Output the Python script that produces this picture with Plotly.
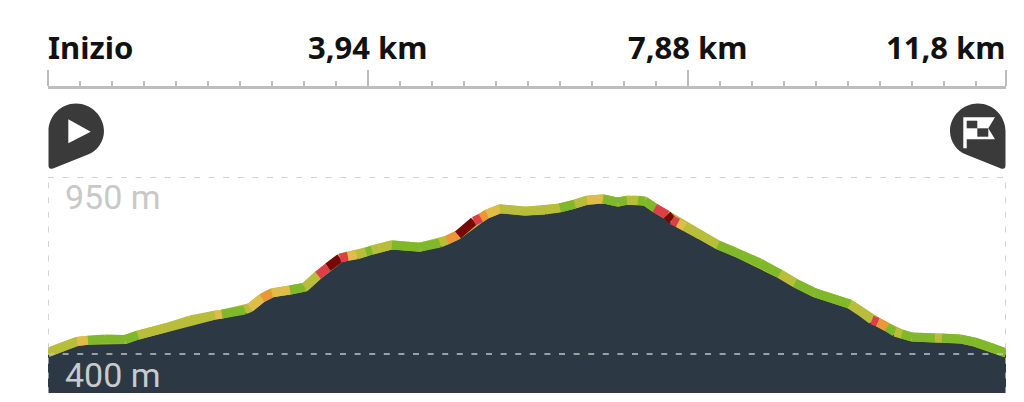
import plotly.graph_objects as go

# Distance along the route (km) and elevation (m)
distance_km = [0, 0.172, 0.357, 0.493, 0.702, 0.948, 1.109, 1.441, 1.749, 2.057, 2.143, 2.426, 2.488, 2.636,
               2.759, 2.981, 3.165, 3.326, 3.449, 3.597, 3.695, 3.806, 3.917, 3.991, 4.237, 4.582, 4.828,
               4.914, 5.050, 5.247, 5.333, 5.407, 5.567, 5.875, 6.122, 6.306, 6.491, 6.639, 6.836, 7.021,
               7.131, 7.267, 7.353, 7.476, 7.624, 7.686, 7.760, 7.846, 8.031, 8.252, 8.462, 8.770, 9.016,
               9.201, 9.447, 9.878, 10.001, 10.149, 10.223, 10.334, 10.432, 10.518, 10.642, 10.925, 11.011,
               11.233, 11.418, 11.603, 11.8]
elevation_m = [405, 422, 439, 443, 447, 445, 459, 481, 506, 521, 524, 537, 544, 574,
               590, 599, 608, 645, 670, 698, 704, 708, 717, 723, 739, 732, 745,
               754, 770, 813, 823, 835, 851, 844, 847, 854, 866, 878, 882, 872,
               878, 878, 875, 854, 832, 816, 807, 795, 770, 739, 717, 683, 649,
               621, 590, 555, 534, 506, 499, 484, 468, 462, 453, 450, 450,
               447, 437, 422, 403]
# Slope class of the stretch that starts at each point (the last point starts nothing)
slope_class = list("YYOGGGYYYOGYOAOGYRDROYGYGGYADRAOYYYGYOGGYGGRDROYYGGGYGGYYRAGYGGYGGGG") + ["G"]

slope_colors = {"G": "#7fb92a", "Y": "#b8bd3a", "O": "#e0bc48", "A": "#ec9638", "R": "#dd3f48", "D": "#780808"}

major_ticks = [0, 3.94, 7.88, 11.8]
major_labels = ["Inizio", "3,94 km", "7,88 km", "11,8 km"]
minor_ticks = [0.394, 0.788, 1.182, 1.576, 1.97, 2.364, 2.758, 3.152, 3.546,
               4.334, 4.728, 5.122, 5.516, 5.91, 6.304, 6.698, 7.092, 7.486,
               8.274, 8.668, 9.062, 9.456, 9.85, 10.244, 10.638, 11.032, 11.426]
elev_ticks = [950, 400]
elev_labels = ["950 m", "400 m"]

W, H = 1024, 402
AREA = "#2d3845"
GREY = "#bdbdbd"
DASH = "#c0c2c6"
PIN = "#3a3a3a"
BAND = 9


def px(x):
    return x / W


def py(y):
    return 1 - y / H


def path(cmds):
    """Build a paper-referenced SVG path from commands given in page pixels."""
    out = []
    for cmd, *pts in cmds:
        out.append(cmd + " ".join(f"{px(pts[i]):.5f},{py(pts[i + 1]):.5f}" for i in range(0, len(pts), 2)))
    return " ".join(out)


fig = go.Figure()

fig.add_trace(go.Scatter(x=distance_km, y=elevation_m, mode="lines", fill="tozeroy",
                         fillcolor=AREA, line=dict(width=0, color=AREA), hoverinfo="skip", showlegend=False))

# The coloured band lives on an overlaid y axis so that it is painted over the filled area
fig.add_trace(go.Scatter(x=distance_km, y=elevation_m, yaxis="y2", mode="lines",
                         line=dict(width=BAND, color=slope_colors["Y"]), hoverinfo="skip", showlegend=False))
for i in range(len(distance_km) - 1):
    fig.add_trace(go.Scatter(x=distance_km[i:i + 2], y=elevation_m[i:i + 2], yaxis="y2", mode="lines",
                             line=dict(width=BAND, color=slope_colors[slope_class[i]]),
                             hoverinfo="skip", showlegend=False))

# Carrier for the ruler axis at the top
fig.add_trace(go.Scatter(x=major_ticks, y=[elev_ticks[1]] * 4, xaxis="x2", mode="none",
                         hoverinfo="skip", showlegend=False))

shapes = []
dash_line = dict(color=DASH, width=1.4, dash="6px,8.6px")
for v in elev_ticks:
    shapes.append(dict(type="line", xref="x", yref="y", x0=major_ticks[0], x1=major_ticks[-1], y0=v, y1=v,
                       line=dash_line, layer="above"))
for k in (major_ticks[0], major_ticks[-1]):
    shapes.append(dict(type="line", xref="x", yref="y domain", x0=k, x1=k, y0=0, y1=1, line=dash_line, layer="above"))

# Start pin
shapes.append(dict(type="path", xref="paper", yref="paper", fillcolor=PIN, line=dict(width=0), path=path([
    ("M", 48.5, 131), ("C", 48.5, 116, 61, 103.5, 76, 103.5), ("C", 91, 103.5, 104, 116, 104, 131),
    ("C", 104, 142, 97, 151, 88, 154.5), ("L", 53, 168.5), ("Q", 48.5, 170, 48.5, 165), ("Z",)])))
shapes.append(dict(type="path", xref="paper", yref="paper", fillcolor="white", line=dict(width=0), path=path([
    ("M", 68.3, 119.3), ("L", 90.7, 131.7), ("L", 68.3, 143.3), ("Z",)])))
# Finish pin
shapes.append(dict(type="path", xref="paper", yref="paper", fillcolor=PIN, line=dict(width=0), path=path([
    ("M", 1005.5, 131), ("C", 1005.5, 116, 993, 103.5, 978, 103.5), ("C", 963, 103.5, 950, 116, 950, 131),
    ("C", 950, 142, 957, 151, 966, 154.5), ("L", 1001, 168.5), ("Q", 1005.5, 170, 1005.5, 165), ("Z",)])))
shapes.append(dict(type="path", xref="paper", yref="paper", fillcolor="white", line=dict(width=0), path=path([
    ("M", 963.3, 117.3), ("L", 995, 117.3), ("L", 988.3, 128.3), ("L", 995, 139.3), ("L", 966.7, 139.3),
    ("L", 966.7, 148.3), ("L", 963.3, 148.3), ("Z",)])))
for a, b, c, d in ((966.7, 120.7, 977.3, 128.3), (977.3, 128.3, 988.3, 136.7)):
    shapes.append(dict(type="path", xref="paper", yref="paper", fillcolor=PIN, line=dict(width=0), path=path([
        ("M", a, b), ("L", c, b), ("L", c, d), ("L", a, d), ("Z",)])))

annotations = []
anchors = ["left", "center", "center", "right"]
shifts = [-2, 0, 0, 2]
for k, label, anchor, shift in zip(major_ticks, major_labels, anchors, shifts):
    annotations.append(dict(x=k, xref="x", y=py(46.5), yref="paper", text=f"<b>{label}</b>", showarrow=False,
                            xanchor=anchor, yanchor="middle", xshift=shift,
                            font=dict(family="Noto Sans", size=31, color="#111111")))
annotations.append(dict(x=px(63), xref="paper", y=elev_ticks[0], yref="y", yshift=-20, text=elev_labels[0],
                        showarrow=False, xanchor="left", yanchor="middle",
                        font=dict(family="Roboto", size=34, color="#c8c8c8")))
annotations.append(dict(x=px(63), xref="paper", y=elev_ticks[1], yref="y", yshift=-21, text=elev_labels[1],
                        showarrow=False, xanchor="left", yanchor="middle",
                        font=dict(family="Roboto", size=34, color="#c8cbce")))

x_range = [major_ticks[0], major_ticks[-1]]
x_domain = [px(48), px(1006)]
y_domain = [py(393), py(177)]
y_range = [279, 950]
fig.update_layout(
    width=W, height=H, margin=dict(l=0, r=0, t=0, b=0), paper_bgcolor="white", plot_bgcolor="white",
    showlegend=False, shapes=shapes, annotations=annotations,
    xaxis=dict(domain=x_domain, range=x_range, showgrid=False, zeroline=False, showticklabels=False, ticks=""),
    xaxis2=dict(domain=x_domain, range=x_range, overlaying="x", anchor="free", position=py(86.5), side="top",
                showgrid=False, zeroline=False, showline=True, linecolor=GREY, linewidth=2.5,
                tickmode="array", tickvals=major_ticks, ticktext=[""] * 4, ticks="outside", ticklen=16,
                tickwidth=2, tickcolor=GREY,
                minor=dict(tickmode="array", tickvals=minor_ticks, ticks="outside", ticklen=5, tickwidth=2,
                           tickcolor=GREY, showgrid=False)),
    yaxis=dict(domain=y_domain, range=y_range, showgrid=False, zeroline=False, showticklabels=False, ticks=""),
    yaxis2=dict(domain=y_domain, range=y_range, overlaying="y", anchor="x", showgrid=False, zeroline=False,
                showticklabels=False, ticks=""),
)

fig.write_html("out.html", post_script="document.body.style.margin='0';", config={"displayModeBar": False})
